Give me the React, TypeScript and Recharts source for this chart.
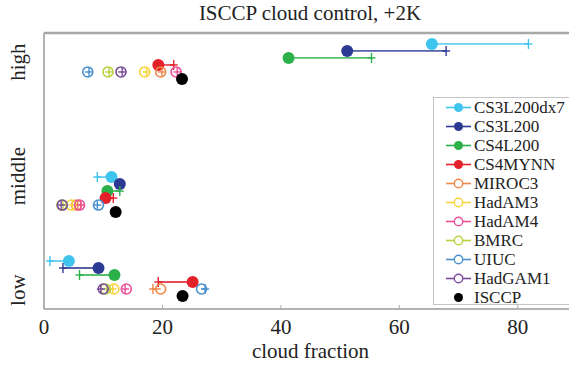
import React from 'react'
import { ComposedChart, Scatter, XAxis, YAxis, ReferenceLine } from 'recharts'

// models in legend order
const models = ['CS3L200dx7', 'CS3L200', 'CS4L200', 'CS4MYNN', 'MIROC3', 'HadAM3', 'HadAM4', 'BMRC', 'UIUC', 'HadGAM1', 'ISCCP']
const colors = ['#3fc4ee', '#2d3a94', '#2bb04a', '#e4202a', '#f08848', '#f7d33c', '#ea4f98', '#b9d33e', '#4a8fcf', '#7a4b9a', '#000000']
const filled = [true, true, true, true, false, false, false, false, false, false, true]

const levelNames = ['low', 'middle', 'high']
const xTicks = [0, 20, 40, 60, 80]

// cloud fraction: control run (dot) and +2K run (cross)
const highControl = [65.5, 51.2, 41.3, 19.3, 19.7, 17.0, 22.3, 10.8, 7.4, 13.0, 23.3]
const highWarm = [81.8, 67.9, 55.3, 21.9, 19.9, 17.3, 22.5, 11.0, 7.6, 13.2, null]
const middleControl = [11.4, 12.8, 10.7, 10.4, 5.5, 4.6, 6.0, 3.0, 9.2, 3.1, 12.1]
const middleWarm = [9.0, 12.6, 12.8, 11.7, 5.7, 4.8, 6.2, 3.2, 9.0, 2.9, null]
const lowControl = [4.2, 9.2, 11.9, 25.1, 19.7, 11.8, 13.9, 10.4, 26.6, 10.0, 23.4]
const lowWarm = [1.0, 3.2, 6.0, 19.3, 18.4, 11.6, 13.7, 10.6, 27.2, 9.6, null]

// vertical placement of each level's stack of rows
const levelTop = [0.256, 0.992, 2.159]
const rowOf = [0, 1, 2, 3, 4, 4, 4, 4, 4, 4, 5]
const rowStep = 0.0614

const control = [lowControl, middleControl, highControl]
const warm = [lowWarm, middleWarm, highWarm]

const FONT = '"Liberation Serif", "DejaVu Serif", serif'

type Pt = { x: number; y: number; kind: 'c' | 'p' }

function makeShape(i: number) {
  const col = colors[i]
  return (props: any) => {
    const { cx, cy, payload } = props
    if (cx == null || cy == null) return <g />
    if (payload.kind === 'p') {
      return (
        <g>
          <line x1={cx} x2={cx} y1={cy - 5} y2={cy + 5} stroke={col} strokeWidth={1.4} />
          <line x1={cx - 4} x2={cx + 4} y1={cy} y2={cy} stroke={col} strokeWidth={1.4} />
        </g>
      )
    }
    if (filled[i]) return <circle cx={cx} cy={cy} r={6} fill={col} />
    return <circle cx={cx} cy={cy} r={5} fill="none" stroke={col} strokeWidth={1.6} />
  }
}

function XTick(props: any) {
  const { x, y, payload } = props
  return (
    <g>
      <line x1={x} x2={x} y1={y} y2={y - 4} stroke="#aaa" strokeWidth={1} />
      <text x={x} y={y + 25} textAnchor="middle" fontFamily={FONT} fontSize={21} fill="#222">
        {payload.value}
      </text>
    </g>
  )
}

function YTick(props: any) {
  const { y, payload } = props
  const bx = 25
  return (
    <text x={bx} y={y} transform={`rotate(-90, ${bx}, ${y})`} textAnchor="middle" fontFamily={FONT} fontSize={21} fill="#222">
      {levelNames[payload.value]}
    </text>
  )
}

function LegendBox() {
  return (
    <div
      style={{
        position: 'absolute',
        left: 433,
        top: 97,
        width: 160,
        height: 208,
        boxSizing: 'border-box',
        border: '1px solid #c4c4c4',
        background: '#fff',
        fontFamily: FONT,
        fontSize: 17,
        color: '#222',
      }}
    >
      {models.map((m, i) => (
        <div key={m} style={{ height: 19, display: 'flex', alignItems: 'center' }}>
          <svg width={40} height={19} style={{ display: 'block' }}>
            {i < 10 && <line x1={12} x2={37} y1={9.5} y2={9.5} stroke={colors[i]} strokeWidth={1.6} />}
            {filled[i] ? (
              <circle cx={24.5} cy={9.5} r={4.5} fill={colors[i]} />
            ) : (
              <circle cx={24.5} cy={9.5} r={4.2} fill="#fff" stroke={colors[i]} strokeWidth={1.4} />
            )}
          </svg>
          <span style={{ lineHeight: '19px', whiteSpace: 'nowrap' }}>{m}</span>
        </div>
      ))}
    </div>
  )
}

export default function App() {
  const series: { key: string; i: number; data: Pt[] }[] = []
  models.forEach((m, i) => {
    levelNames.forEach((lv, l) => {
      const y = levelTop[l] - rowOf[i] * rowStep
      const data: Pt[] = [{ x: control[l][i] as number, y, kind: 'c' }]
      const w = warm[l][i]
      if (w != null) data.push({ x: w, y, kind: 'p' })
      series.push({ key: `${m}-${lv}`, i, data })
    })
  })

  return (
    <div style={{ position: 'absolute', left: 0, top: 0, width: 569, height: 365, overflow: 'hidden', background: '#fff' }}>
      <div
        style={{
          position: 'absolute',
          left: 0,
          width: 620,
          top: 0,
          textAlign: 'center',
          fontFamily: FONT,
          fontSize: 21,
          lineHeight: '26px',
          color: '#222',
        }}
      >
        ISCCP cloud control, +2K
      </div>
      <ComposedChart width={577} height={365} margin={{ top: 33, right: 0, bottom: 0, left: 0 }}>
        <XAxis
          type="number"
          dataKey="x"
          domain={[0, 90]}
          ticks={xTicks}
          tick={<XTick />}
          tickLine={false}
          tickSize={0}
          tickMargin={0}
          height={56}
          axisLine={{ stroke: '#9a9a9a', strokeWidth: 1.5 }}
          label={{ value: 'cloud fraction', position: 'insideBottom', offset: 7, fontFamily: FONT, fontSize: 21, fill: '#222' }}
        />
        <YAxis
          type="number"
          dataKey="y"
          domain={[-0.165, 2.255]}
          ticks={[0, 1, 2]}
          tick={<YTick />}
          tickLine={false}
          width={44}
          axisLine={{ stroke: '#9a9a9a', strokeWidth: 1.5 }}
        />
        <ReferenceLine y={2.255} stroke="#a8a8a8" strokeWidth={2.5} />
        {series.map((s) => (
          <Scatter
            key={s.key}
            data={s.data}
            isAnimationActive={false}
            line={s.i < 10 ? { stroke: colors[s.i], strokeWidth: 1.8, strokeOpacity: 0.8 } : false}
            shape={makeShape(s.i)}
          />
        ))}
      </ComposedChart>
      <LegendBox />
    </div>
  )
}
